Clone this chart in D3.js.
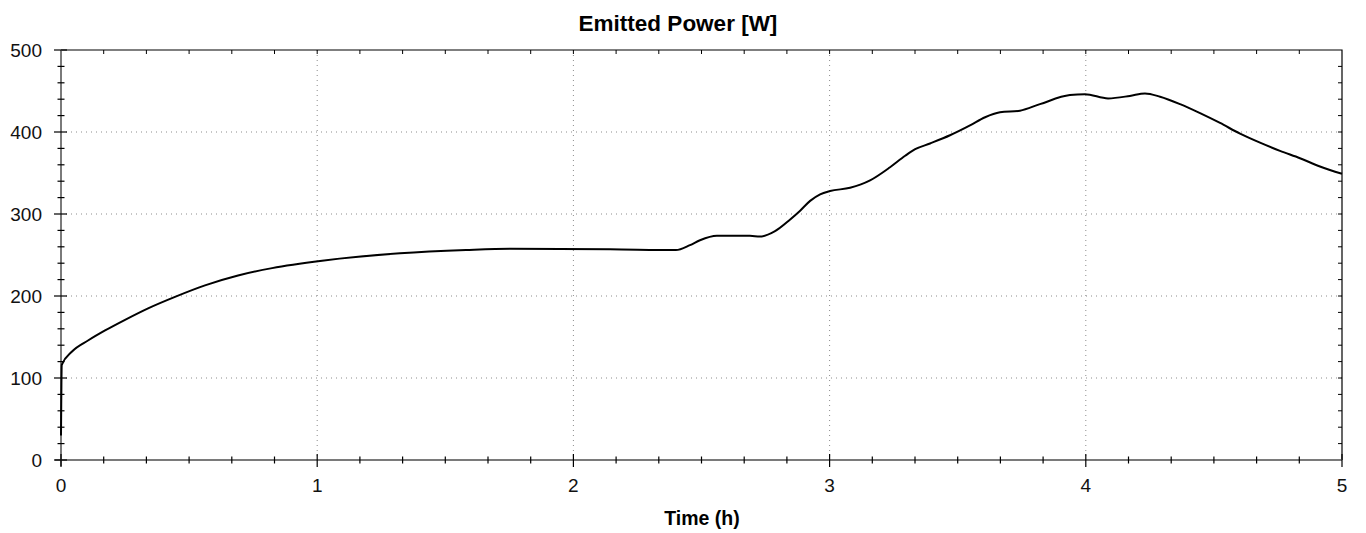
<!DOCTYPE html>
<html lang="en">
    <head>
        <meta charset="utf-8">
        <title>Emitted Power</title>
        <script src="https://d3js.org/d3.v7.min.js"></script>
        <style type="text/css">
         body { margin: 0; background: #fff; }
         text { font-family: Arial, "Liberation Sans", sans-serif; }
        </style>
    </head>
    <body>
        <script type="text/javascript">

        // data: time in hours, emitted power in W
        const hours = [0, 0.003, 0.042, 0.107, 0.172, 0.25, 0.34, 0.445, 0.562, 0.691, 0.824, 1.019,
                       1.323, 1.581, 1.753, 2.143, 2.4, 2.455, 2.494, 2.56, 2.689, 2.728, 2.787, 2.845,
                       2.885, 2.924, 2.963, 3.002, 3.08, 3.158, 3.236, 3.295, 3.334, 3.392, 3.47, 3.548, 3.607,
                       3.665, 3.743, 3.821, 3.938, 3.997, 4.087, 4.172, 4.231, 4.29, 4.368, 4.446, 4.524,
                       4.602, 4.68, 4.758, 4.836, 4.914, 5.0];
        const power = [30, 116, 132, 146, 158, 171, 185, 199, 213, 225, 234, 243,
                       252, 256, 257.5, 257, 256, 262, 268, 273.5, 273.5, 272.5, 279, 293,
                       304, 316, 324, 328, 332, 341, 357, 371, 379, 386, 396, 408, 418,
                       424, 426, 434, 445, 446, 441, 444, 447, 443, 434, 423, 411,
                       398, 387, 377, 368, 358, 349];
        const xTicks = [0, 1, 2, 3, 4, 5];
        const yTicks = [0, 100, 200, 300, 400, 500];
        const title = "Emitted Power [W]";
        const xLabel = "Time (h)";

        const svgW = 1366;
        const svgH = 533;
        const mLeft = 61, mRight = 1342, mTop = 50, mBottom = 460;

        const data = hours.map((h, i) => ({t: h, p: power[i]}));

        const x = d3.scaleLinear().domain([0, 5]).range([mLeft, mRight]);
        const y = d3.scaleLinear().domain([0, 500]).range([mBottom, mTop]);

        const xMinor = d3.range(0, 31).map(i => i / 6);
        const yMinor = d3.range(0, 501, 20);

        const svg = d3.select("body")
                .append("svg")
                .attr("width", svgW)
                .attr("height", svgH);

        // dotted grid at the major ticks
        svg.append("g")
           .selectAll("line")
           .data(xTicks.slice(1, -1))
           .join("line")
           .attr("x1", d => x(d)).attr("x2", d => x(d))
           .attr("y1", mTop).attr("y2", mBottom)
           .attr("stroke", "#8c8c8c")
           .attr("stroke-dasharray", "1,4");
        svg.append("g")
           .selectAll("line")
           .data(yTicks.slice(1, -1))
           .join("line")
           .attr("x1", mLeft).attr("x2", mRight)
           .attr("y1", d => y(d)).attr("y2", d => y(d))
           .attr("stroke", "#8c8c8c")
           .attr("stroke-dasharray", "1,4");

        // top and right frame
        svg.append("path")
           .attr("d", `M${mLeft},${mTop}H${mRight}V${mBottom}`)
           .attr("fill", "none")
           .attr("stroke", "#000")
           .attr("stroke-width", 1.2);

        // small inward ticks on top and right frame
        svg.append("g")
           .selectAll("line")
           .data(xMinor.filter(d => d > 0 && d < 5))
           .join("line")
           .attr("x1", d => x(d)).attr("x2", d => x(d))
           .attr("y1", mTop).attr("y2", mTop + 4)
           .attr("stroke", "#000");
        svg.append("g")
           .selectAll("line")
           .data(yMinor.filter(d => d > 0 && d < 500))
           .join("line")
           .attr("x1", mRight - 4).attr("x2", mRight)
           .attr("y1", d => y(d)).attr("y2", d => y(d))
           .attr("stroke", "#000");

        // left and bottom axes (grey line, crossing ticks)
        svg.append("line")
           .attr("x1", mLeft).attr("x2", mLeft).attr("y1", mTop).attr("y2", mBottom + 6)
           .attr("stroke", "#7a7a7a").attr("stroke-width", 2);
        svg.append("line")
           .attr("x1", mLeft - 6).attr("x2", mRight).attr("y1", mBottom).attr("y2", mBottom)
           .attr("stroke", "#7a7a7a").attr("stroke-width", 2);

        svg.append("g")
           .selectAll("line")
           .data(yMinor)
           .join("line")
           .attr("x1", d => mLeft - (d % 100 === 0 ? 7 : 3.5))
           .attr("x2", d => mLeft + (d % 100 === 0 ? 6 : 3.5))
           .attr("y1", d => y(d)).attr("y2", d => y(d))
           .attr("stroke", "#000").attr("stroke-width", 1.2);
        svg.append("g")
           .selectAll("line")
           .data(xMinor)
           .join("line")
           .attr("x1", d => x(d)).attr("x2", d => x(d))
           .attr("y1", d => mBottom - (Math.abs(d - Math.round(d)) < 1e-9 ? 6 : 3.5))
           .attr("y2", d => mBottom + (Math.abs(d - Math.round(d)) < 1e-9 ? 7 : 3.5))
           .attr("stroke", "#000").attr("stroke-width", 1.2);

        // tick labels
        svg.append("g")
           .selectAll("text")
           .data(yTicks)
           .join("text")
           .attr("x", mLeft - 19)
           .attr("y", d => y(d))
           .attr("dy", "0.35em")
           .attr("text-anchor", "end")
           .attr("font-size", 19)
           .attr("fill", "#111")
           .text(d => d);
        svg.append("g")
           .selectAll("text")
           .data(xTicks)
           .join("text")
           .attr("x", d => x(d))
           .attr("y", 492)
           .attr("text-anchor", "middle")
           .attr("font-size", 19)
           .attr("fill", "#111")
           .text(d => d);

        // the curve
        const line = d3.line()
                .x(d => x(d.t))
                .y(d => y(d.p))
                .curve(d3.curveMonotoneX);
        svg.append("path")
           .datum(data)
           .attr("d", line)
           .attr("fill", "none")
           .attr("stroke", "#000")
           .attr("stroke-width", 2);

        // title and axis label
        svg.append("text")
           .attr("x", 678).attr("y", 31)
           .attr("text-anchor", "middle")
           .attr("font-size", 22.5)
           .attr("font-weight", "bold")
           .text(title);
        svg.append("text")
           .attr("x", 702).attr("y", 525)
           .attr("text-anchor", "middle")
           .attr("font-size", 19.5)
           .attr("font-weight", "bold")
           .text(xLabel);
        </script>
    </body>
</html>
